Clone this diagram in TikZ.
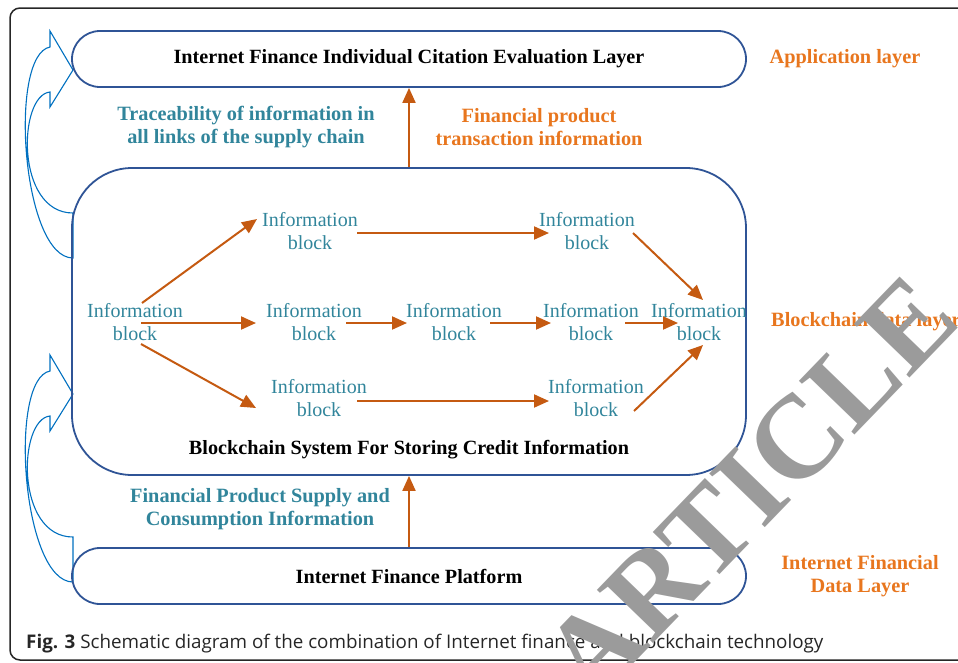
\documentclass[tikz,border=0pt]{standalone}
\usepackage{fontspec}
\setmainfont{Liberation Serif}
\newfontfamily\capfont{Open Sans}
\usetikzlibrary{arrows.meta}
\definecolor{boxblue}{RGB}{47,84,150}
\definecolor{tealtext}{RGB}{49,133,155}
\definecolor{layerorange}{RGB}{232,118,30}
\definecolor{flowbrown}{RGB}{197,90,17}
\definecolor{curveblue}{RGB}{0,112,192}
\definecolor{stampgray}{RGB}{155,155,155}
\begin{document}
\begin{tikzpicture}[x=1pt, y=-1pt,
    layerbox/.style={draw=boxblue, line width=1.8pt, minimum width=674pt, rounded corners=28pt, font=\fontsize{20.2}{23}\selectfont\bfseries},
    infoblock/.style={text=tealtext, align=center, inner sep=0pt, font=\fontsize{20}{23}\selectfont},
    tealnote/.style={text=tealtext, align=center, inner sep=0pt, font=\fontsize{20.3}{23}\selectfont\bfseries},
    layernote/.style={text=layerorange, align=center, inner sep=0pt, font=\fontsize{20.3}{23}\selectfont\bfseries},
    flow/.style={draw=flowbrown, line width=2pt, -{Triangle[length=15pt, width=13pt]}},
    bendarrow/.style={draw=curveblue, line width=1.1pt}]
        \useasboundingbox (0,0) rectangle (958,662);
        \clip (0,0) rectangle (958,662);
        % Frame and caption
        \draw[black!85, line width=1.5pt, rounded corners=10pt] (10,8) rectangle (1000,660);
        \node (caption) [anchor=base west, inner sep=0pt, text=black!85, font=\capfont\fontsize{18.8}{22}\selectfont] at (26,648) {\textbf{Fig. 3} Schematic diagram of the combination of Internet finance and blockchain technology};

        % Curved arrows on the left
        \foreach \dy in {0,324} {
            \draw[bendarrow, shift={(0,\dy)}] (73,258) .. controls (22,258) and (8,55) .. (50,47) -- (50,31) -- (73,70) -- (50,107) -- (50,92) .. controls (18,95) and (15,213) .. (73,213) -- cycle;
        }

        % Layers
        \node (appbox) [layerbox, minimum height=56pt] at (409,59) {Internet Finance Individual Citation Evaluation Layer};
        \node (chainbox) [draw=boxblue, line width=1.8pt, minimum width=674pt, minimum height=307pt, rounded corners=60pt] at (409,321.5) {};
        \node (chaintitle) [font=\fontsize{20.2}{23}\selectfont\bfseries] at (409,450) {Blockchain System For Storing Credit Information};
        \node (platbox) [layerbox, minimum height=56pt] at (409,576) {Internet Finance Platform};

        \node (applabel) [layernote] at (845,59) {Application layer};
        \node (chainlabel) [layernote, anchor=west] at (771,322) {Blockchain data layer};
        \node (datalabel) [layernote] at (860,576) {Internet Financial\\Data Layer};

        \node (tracenote) [tealnote] at (246,127) {Traceability of information in\\all links of the supply chain};
        \node (tradenote) [layernote] at (539,127) {Financial product\\transaction information};
        \node (supplynote) [tealnote] at (260,509) {Financial Product Supply and\\Consumption Information};

        % Information blocks
        \node (blk0) [infoblock] at (135,322) {Information\\block};
        \node (blkt1) [infoblock] at (310,231) {Information\\block};
        \node (blkt2) [infoblock] at (587,231) {Information\\block};
        \node (blkm1) [infoblock] at (314,322) {Information\\block};
        \node (blkm2) [infoblock] at (454,322) {Information\\block};
        \node (blkm3) [infoblock] at (591,322) {Information\\block};
        \node (blkm4) [infoblock] at (699,322) {Information\\block};
        \node (blkb1) [infoblock] at (319,398) {Information\\block};
        \node (blkb2) [infoblock] at (596,398) {Information\\block};

        % Edges
        \draw[flow] (chainbox.north) -- (appbox.south);
        \draw[flow] (platbox.north) -- (chainbox.south);
        \draw[flow] ([shift={(7,-19)}]blk0.center) -- ([shift={(-53,-12)}]blkt1.center);
        \draw[flow] ([shift={(6,1)}]blk0.center) -- ([shift={(-58,1)}]blkm1.center);
        \draw[flow] ([shift={(6,22)}]blk0.center) -- ([shift={(-63,10)}]blkb1.center);
        \draw[flow] ([shift={(47,2)}]blkt1.center) -- ([shift={(-38,2)}]blkt2.center);
        \draw[flow] ([shift={(32,1)}]blkm1.center) -- ([shift={(-47,1)}]blkm2.center);
        \draw[flow] ([shift={(36,1)}]blkm2.center) -- ([shift={(-40,1)}]blkm3.center);
        \draw[flow] ([shift={(34,1)}]blkm3.center) -- ([shift={(-21,1)}]blkm4.center);
        \draw[flow] ([shift={(46,2)}]blkt2.center) -- ([shift={(4,-22)}]blkm4.center);
        \draw[flow] ([shift={(38,3)}]blkb1.center) -- ([shift={(-47,3)}]blkb2.center);
        \draw[flow] ([shift={(38,13)}]blkb2.center) -- ([shift={(4,23)}]blkm4.center);

        % Stamp
        \node (stamp) [rotate=46, inner sep=0pt, text=stampgray, font=\fontsize{118}{118}\selectfont\bfseries] at (750,488) {ARTICLE};
    \end{tikzpicture}
\end{document}
